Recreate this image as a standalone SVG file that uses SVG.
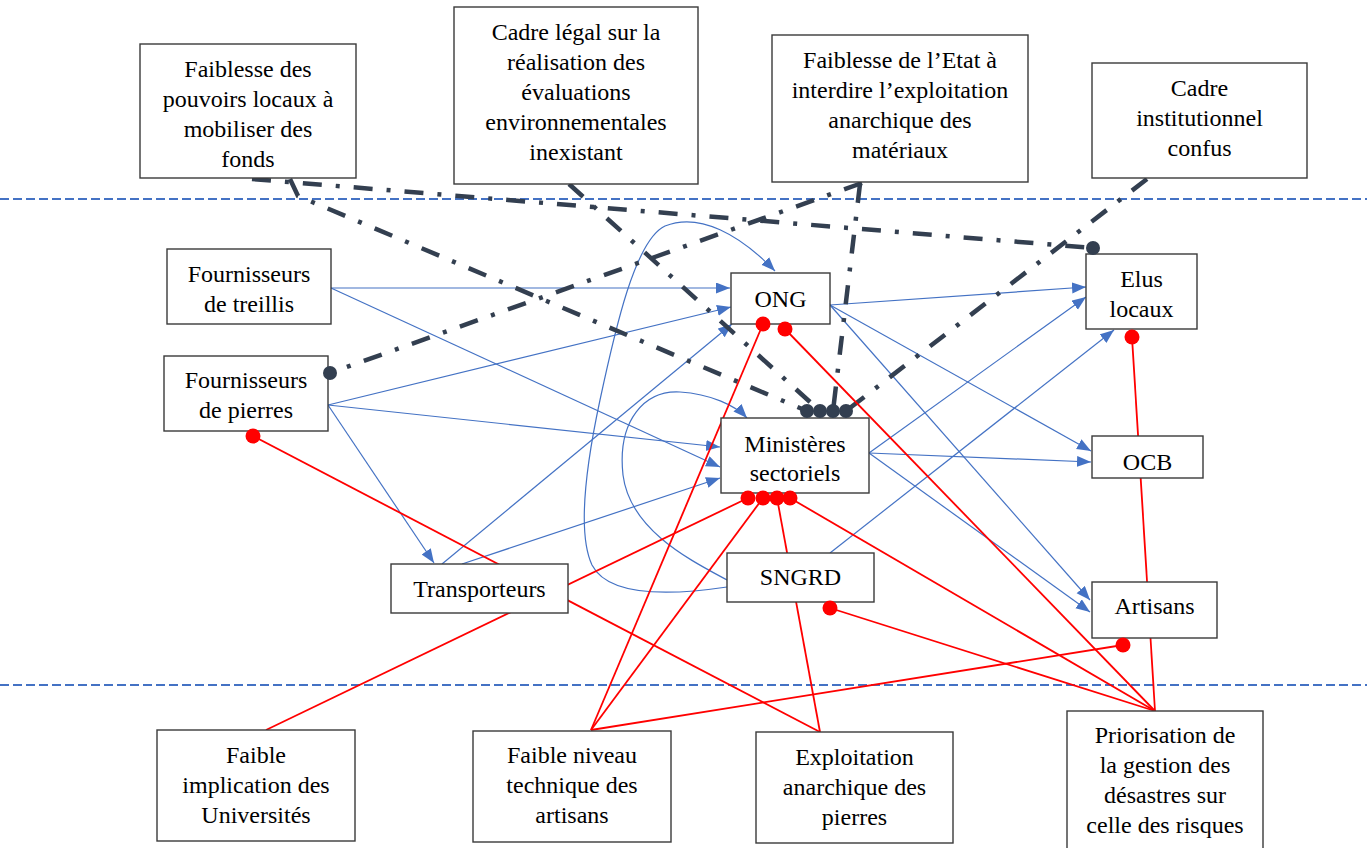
<svg xmlns="http://www.w3.org/2000/svg" width="1367" height="848" viewBox="0 0 1367 848">
  <style>
    .box { fill: #ffffff; stroke: #3a3a3a; stroke-width: 1.4; }
    .lbl { font-family: "Liberation Serif", "Times New Roman", serif; font-size: 24px; fill: #000; text-anchor: middle; }
    .band { stroke: #4472C4; stroke-width: 2; stroke-dasharray: 9 4; fill: none; }
    .flow { stroke: #4472C4; stroke-width: 1.2; fill: none; marker-end: url(#arr); }
    .ctrl { stroke: #333F50; stroke-width: 4.5; stroke-dasharray: 19 14 4 14; fill: none; }
    .lim { stroke: #FF0000; stroke-width: 1.8; fill: none; }
    .dk { fill: #333F50; }
    .rd { fill: #FF0000; }
  </style>
  <defs>
    <marker id="arr" markerUnits="userSpaceOnUse" markerWidth="15" markerHeight="12" refX="14" refY="5.5" orient="auto">
      <path d="M0,0 L14,5.5 L0,11 z" fill="#4472C4"/>
    </marker>
  </defs>
  <rect width="1367" height="848" fill="#ffffff"/>

  <!-- level separators -->
  <g id="bands">
    <line class="band" x1="0" y1="199" x2="1367" y2="199"/>
    <line class="band" x1="0" y1="685" x2="1367" y2="685"/>
  </g>

  <g id="connectors">
    <!-- material / information flows -->
    <line class="flow" x1="331" y1="288" x2="730" y2="288"/>
    <line class="flow" x1="331" y1="288" x2="720" y2="467"/>
    <line class="flow" x1="328" y1="405" x2="731" y2="307"/>
    <line class="flow" x1="328" y1="405" x2="720" y2="447"/>
    <line class="flow" x1="328" y1="405" x2="434" y2="563"/>
    <line class="flow" x1="442" y1="564" x2="732" y2="324"/>
    <line class="flow" x1="462" y1="564" x2="720" y2="478"/>
    <path class="flow" d="M727,587 C680,594 610,600 592,565 C578,535 585,470 600,400 C615,330 635,240 665,226 C700,212 740,235 775,271"/>
    <path class="flow" d="M727,580 C690,560 630,530 623,475 C617,420 645,390 680,392 C710,394 735,405 747,418"/>
    <line class="flow" x1="830" y1="305" x2="1086" y2="287"/>
    <line class="flow" x1="830" y1="305" x2="1091" y2="451"/>
    <line class="flow" x1="830" y1="305" x2="1090" y2="600"/>
    <line class="flow" x1="869" y1="453" x2="1086" y2="297"/>
    <line class="flow" x1="869" y1="453" x2="1091" y2="462"/>
    <line class="flow" x1="869" y1="453" x2="1090" y2="612"/>
    <line class="flow" x1="830" y1="553" x2="1114" y2="330"/>

    <!-- institutional influences -->
    <line class="ctrl" x1="252" y1="179" x2="1093" y2="248"/>
    <path class="ctrl" d="M290,179 L298,196 L807,411"/>
    <line class="ctrl" x1="569" y1="184" x2="820" y2="411"/>
    <line class="ctrl" x1="862" y1="183" x2="330" y2="373"/>
    <line class="ctrl" x1="860" y1="184" x2="833" y2="411"/>
    <line class="ctrl" x1="1147" y1="179" x2="846" y2="411"/>

    <!-- limiting factors -->
    <line class="lim" x1="253" y1="436" x2="820" y2="732"/>
    <line class="lim" x1="763" y1="324" x2="591" y2="730"/>
    <line class="lim" x1="785" y1="329" x2="1155" y2="711"/>
    <line class="lim" x1="748" y1="498" x2="266" y2="730"/>
    <line class="lim" x1="763" y1="498" x2="591" y2="730"/>
    <line class="lim" x1="777" y1="498" x2="820" y2="732"/>
    <line class="lim" x1="790" y1="498" x2="1155" y2="711"/>
    <line class="lim" x1="830" y1="608" x2="1155" y2="711"/>
    <line class="lim" x1="1132" y1="337" x2="1155" y2="711"/>
    <line class="lim" x1="1123" y1="645" x2="591" y2="730"/>
  </g>

  <!-- top level -->
  <g id="n-pouvoirs">
    <rect class="box" x="140" y="44" width="216" height="134"/>
    <text class="lbl" x="248" y="77">Faiblesse des</text>
    <text class="lbl" x="248" y="107">pouvoirs locaux à</text>
    <text class="lbl" x="248" y="137">mobiliser des</text>
    <text class="lbl" x="248" y="167">fonds</text>
  </g>
  <g id="n-cadre-legal">
    <rect class="box" x="454" y="7" width="244" height="177"/>
    <text class="lbl" x="576" y="40">Cadre légal sur la</text>
    <text class="lbl" x="576" y="70">réalisation des</text>
    <text class="lbl" x="576" y="100">évaluations</text>
    <text class="lbl" x="576" y="130">environnementales</text>
    <text class="lbl" x="576" y="160">inexistant</text>
  </g>
  <g id="n-etat">
    <rect class="box" x="772" y="35" width="256" height="147"/>
    <text class="lbl" x="900" y="68">Faiblesse de l’Etat à</text>
    <text class="lbl" x="900" y="98">interdire l’exploitation</text>
    <text class="lbl" x="900" y="128">anarchique des</text>
    <text class="lbl" x="900" y="158">matériaux</text>
  </g>
  <g id="n-institutionnel">
    <rect class="box" x="1092" y="63" width="215" height="115"/>
    <text class="lbl" x="1199.5" y="96">Cadre</text>
    <text class="lbl" x="1199.5" y="126">institutionnel</text>
    <text class="lbl" x="1199.5" y="156">confus</text>
  </g>

  <!-- actors -->
  <g id="n-treillis">
    <rect class="box" x="167" y="249" width="164" height="75"/>
    <text class="lbl" x="249" y="282">Fournisseurs</text>
    <text class="lbl" x="249" y="312">de treillis</text>
  </g>
  <g id="n-pierres">
    <rect class="box" x="164" y="356" width="164" height="75"/>
    <text class="lbl" x="246" y="388">Fournisseurs</text>
    <text class="lbl" x="246" y="418">de pierres</text>
  </g>
  <g id="n-ong">
    <rect class="box" x="731" y="273" width="99" height="51"/>
    <text class="lbl" x="780.5" y="307">ONG</text>
  </g>
  <g id="n-ministeres">
    <rect class="box" x="721" y="418" width="148" height="75"/>
    <text class="lbl" x="795" y="452">Ministères</text>
    <text class="lbl" x="795" y="481">sectoriels</text>
  </g>
  <g id="n-sngrd">
    <rect class="box" x="727" y="553" width="147" height="49"/>
    <text class="lbl" x="800.5" y="585">SNGRD</text>
  </g>
  <g id="n-transporteurs">
    <rect class="box" x="391" y="564" width="177" height="49"/>
    <text class="lbl" x="479.5" y="597">Transporteurs</text>
  </g>
  <g id="n-elus">
    <rect class="box" x="1086" y="254" width="111" height="75"/>
    <text class="lbl" x="1141.5" y="287">Elus</text>
    <text class="lbl" x="1141.5" y="317">locaux</text>
  </g>
  <g id="n-ocb">
    <rect class="box" x="1092" y="436" width="111" height="42"/>
    <text class="lbl" x="1147.5" y="470">OCB</text>
  </g>
  <g id="n-artisans">
    <rect class="box" x="1092" y="582" width="125" height="56"/>
    <text class="lbl" x="1154.5" y="614">Artisans</text>
  </g>

  <!-- bottom level -->
  <g id="n-universites">
    <rect class="box" x="157" y="730" width="198" height="111"/>
    <text class="lbl" x="256" y="763">Faible</text>
    <text class="lbl" x="256" y="793">implication des</text>
    <text class="lbl" x="256" y="823">Universités</text>
  </g>
  <g id="n-niveau">
    <rect class="box" x="473" y="731" width="198" height="111"/>
    <text class="lbl" x="572" y="763">Faible niveau</text>
    <text class="lbl" x="572" y="793">technique des</text>
    <text class="lbl" x="572" y="823">artisans</text>
  </g>
  <g id="n-exploitation">
    <rect class="box" x="756" y="732" width="197" height="111"/>
    <text class="lbl" x="854.5" y="765">Exploitation</text>
    <text class="lbl" x="854.5" y="795">anarchique des</text>
    <text class="lbl" x="854.5" y="825">pierres</text>
  </g>
  <g id="n-priorisation">
    <rect class="box" x="1067" y="711" width="196" height="140"/>
    <text class="lbl" x="1165" y="743">Priorisation de</text>
    <text class="lbl" x="1165" y="773">la gestion des</text>
    <text class="lbl" x="1165" y="803">désastres sur</text>
    <text class="lbl" x="1165" y="833">celle des risques</text>
  </g>

  <!-- connector end dots, drawn over the node borders -->
  <g id="connector-ends">
    <circle class="dk" cx="1093" cy="248" r="7"/>
    <circle class="dk" cx="330" cy="373" r="7"/>
    <circle class="dk" cx="807" cy="411" r="7"/>
    <circle class="dk" cx="820" cy="411" r="7"/>
    <circle class="dk" cx="833" cy="411" r="7"/>
    <circle class="dk" cx="846" cy="411" r="7"/>
    <circle class="rd" cx="253" cy="436" r="7.5"/>
    <circle class="rd" cx="763" cy="324" r="7.5"/>
    <circle class="rd" cx="785" cy="329" r="7.5"/>
    <circle class="rd" cx="748" cy="498" r="7.5"/>
    <circle class="rd" cx="763" cy="498" r="7.5"/>
    <circle class="rd" cx="777" cy="498" r="7.5"/>
    <circle class="rd" cx="790" cy="498" r="7.5"/>
    <circle class="rd" cx="830" cy="608" r="7.5"/>
    <circle class="rd" cx="1132" cy="337" r="7.5"/>
    <circle class="rd" cx="1123" cy="645" r="7.5"/>
  </g>
</svg>
